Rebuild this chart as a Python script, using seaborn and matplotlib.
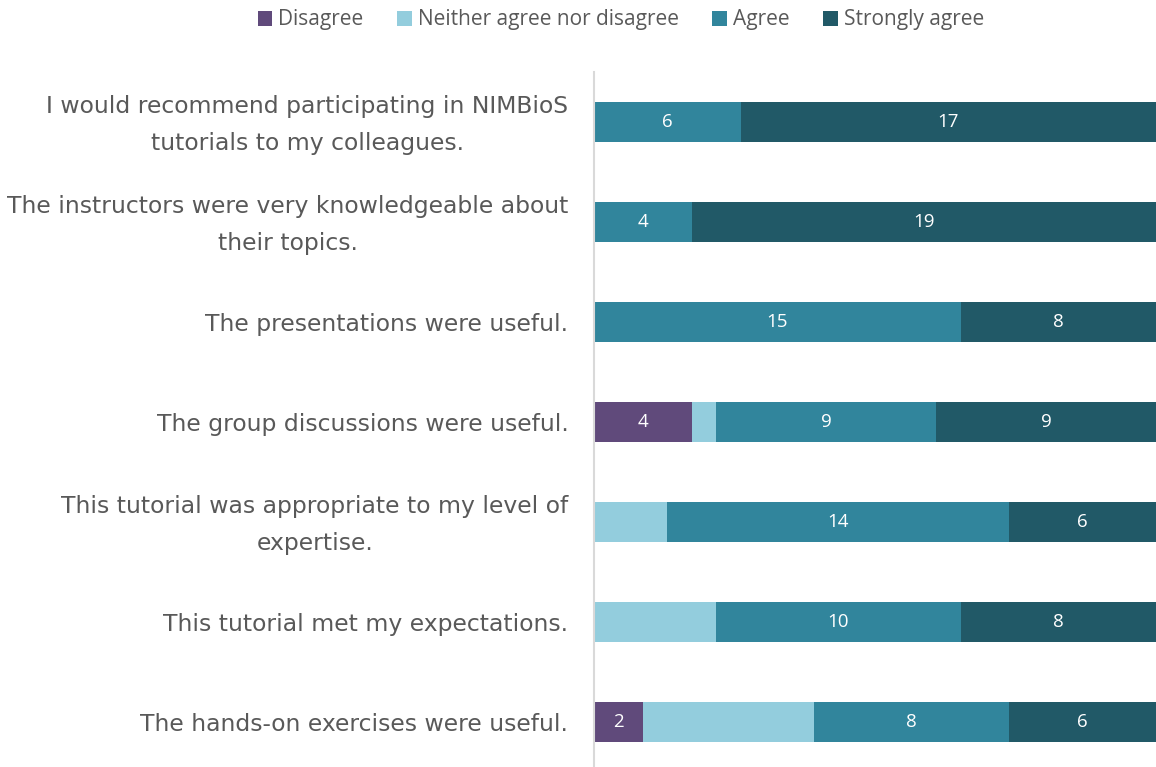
import numpy as np
import pandas as pd
import seaborn as sns
import matplotlib
matplotlib.use("Agg")
import matplotlib.pyplot as plt
import matplotlib.transforms as mtransforms
from matplotlib.patches import Patch

categories = [
    "I would recommend participating in NIMBioS\ntutorials to my colleagues.",
    "The instructors were very knowledgeable about\ntheir topics.",
    "The presentations were useful.",
    "The group discussions were useful.",
    "This tutorial was appropriate to my level of\nexpertise.",
    "This tutorial met my expectations.",
    "The hands-on exercises were useful.",
]
series_names = ["Disagree", "Neither agree nor disagree", "Agree", "Strongly agree"]
disagree = [0, 0, 0, 4, 0, 0, 2]
neither = [0, 0, 0, 1, 3, 5, 7]
agree = [6, 4, 15, 9, 14, 10, 8]
strongly_agree = [17, 19, 8, 9, 6, 8, 6]
colors = ["#604a7b", "#93cddd", "#31859c", "#215967"]
show_labels = [True, False, True, True]

sns.set_theme(style="white")
plt.rcParams['font.family'] = ['DejaVu Sans']

fig = plt.figure(figsize=(11.56, 7.67), dpi=100)
ax = fig.add_axes([594 / 1156, 0, 562 / 1156, 695 / 767])

vals = np.array([disagree, neither, agree, strongly_agree], dtype=float)
cum = np.cumsum(vals, axis=0)

# draw from the longest cumulative (last series) down to the first
for i in range(len(series_names) - 1, -1, -1):
    df = pd.DataFrame({"value": cum[i], "cat": categories})
    sns.barplot(data=df, x="value", y="cat", orient="h", color=colors[i],
                saturation=1, width=0.4, ax=ax, linewidth=0, errorbar=None)

# segment labels
for i in range(len(series_names)):
    if not show_labels[i]:
        continue
    for j in range(len(categories)):
        v = vals[i, j]
        if v <= 0:
            continue
        left = cum[i, j] - v
        ax.text(left + v / 2, j, f"{int(v)}", ha="center", va="center",
                color="white", fontsize=13.5, family="Open Sans")

ax.set_xlim(0, 23)
ax.set_ylim(6.45, -0.5)
ax.set_xlabel("")
ax.set_ylabel("")
ax.set_xticks([])
for s in ["top", "right", "bottom"]:
    ax.spines[s].set_visible(False)
ax.spines["left"].set_color("#d9d9d9")
ax.spines["left"].set_linewidth(1.5)
ax.tick_params(axis="y", length=0, pad=18.5, labelsize=16.9, labelcolor="#595959")
shift = mtransforms.ScaledTranslation(0, 7 / 100, fig.dpi_scale_trans)
for lbl in ax.get_yticklabels():
    lbl.set_multialignment("center")
    lbl.set_linespacing(1.8)
    if "\n" in lbl.get_text():
        lbl.set_transform(lbl.get_transform() + shift)

handles = [Patch(facecolor=c, edgecolor="none") for c in colors]
fig.legend(handles, series_names, loc="center", bbox_to_anchor=(0.537, 1 - 20 / 767),
           ncol=4, frameon=False, handlelength=0.7, handleheight=0.7,
           handletextpad=0.3, columnspacing=1.6, labelcolor="#595959",
           prop={"family": "Open Sans", "size": 15})

fig.savefig("out.png", dpi=100)
